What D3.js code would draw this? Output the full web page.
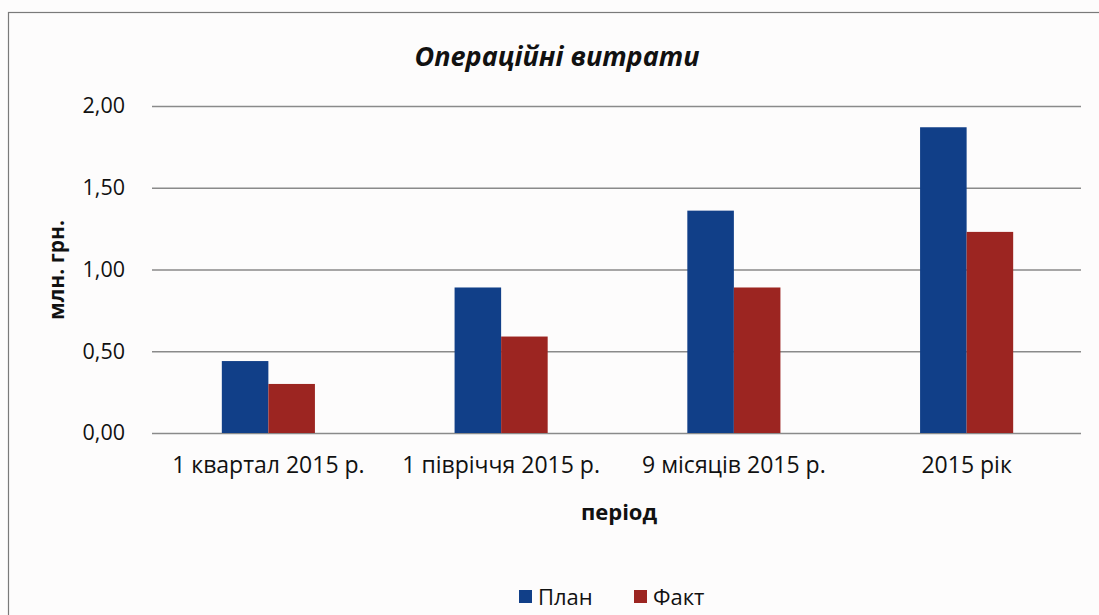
<!DOCTYPE html>
<html lang="uk">
<head>
    <meta charset="UTF-8">
    <title>Операційні витрати</title>
    <script src="https://d3js.org/d3.v7.min.js"></script>
    <style>
        body{
            margin: 0;
            background: #fdfcfc;
        }
        svg text{
            font-family: "Open Sans", "Noto Sans", sans-serif;
            fill: #111;
        }
    </style>
</head>
<body>
<svg id="chart" width="1099" height="615"></svg>

<script>
    // data
    let periods = ["1 квартал 2015 р.", "1 півріччя 2015 р.", "9 місяців 2015 р.", "2015 рік"]
    let plan = [0.44, 0.89, 1.36, 1.87]
    let fakt = [0.30, 0.59, 0.89, 1.23]
    let series_names = ["План", "Факт"]
    let y_ticks = [0, 0.5, 1, 1.5, 2]

    let colors = {"План": "#113f88", "Факт": "#9c2521"}

    let svg = d3.select("#chart")

    // frame (left and top edges only visible)
    svg.append("rect")
        .attr("x", 8.5)
        .attr("y", 12.5)
        .attr("width", 1110)
        .attr("height", 620)
        .attr("fill", "none")
        .attr("stroke", "#7a7a7a")
        .attr("stroke-width", 1.2)

    let margin = {left: 152, right: 1083, top: 106, bottom: 433}

    let x0 = d3.scaleBand()
        .domain(periods)
        .range([margin.left, margin.right])
        .paddingInner(0.6)
        .paddingOuter(0.3)

    let x1 = d3.scaleBand()
        .domain(series_names)
        .range([0, x0.bandwidth()])

    let y = d3.scaleLinear()
        .domain([0, 2])
        .range([margin.bottom, margin.top])

    // grid lines
    svg.append("g")
        .attr("transform", "translate(" + margin.left + ",0)")
        .call(d3.axisLeft(y)
            .tickValues(y_ticks)
            .tickSize(-(margin.right - margin.left - 2))
            .tickFormat(d => d3.format(".2f")(d).replace(".", ","))
            .tickPadding(27))
        .call(g => g.select(".domain").remove())
        .call(g => g.selectAll(".tick line")
            .attr("stroke", "#8a8a8a")
            .attr("stroke-width", 1.4))
        .call(g => g.selectAll(".tick text")
            .attr("font-size", 21.5)
            .style("font-family", "'Open Sans', sans-serif")
            .attr("fill", "#111"))

    // bars
    let rows = periods.map((p, i) => ({period: p, values: [
        {name: "План", value: plan[i]},
        {name: "Факт", value: fakt[i]}
    ]}))

    svg.append("g")
        .selectAll("g")
        .data(rows)
        .join("g")
        .attr("transform", d => "translate(" + x0(d.period) + ",0)")
        .selectAll("rect")
        .data(d => d.values)
        .join("rect")
        .attr("x", d => x1(d.name))
        .attr("y", d => y(d.value))
        .attr("width", x1.bandwidth())
        .attr("height", d => y(0) - y(d.value))
        .attr("fill", d => colors[d.name])

    // category axis labels
    svg.append("g")
        .attr("transform", "translate(0," + margin.bottom + ")")
        .call(d3.axisBottom(x0).tickSize(0).tickPadding(24))
        .call(g => g.select(".domain").remove())
        .call(g => g.selectAll(".tick text")
            .attr("font-size", 23)
            .style("font-family", "'Open Sans', sans-serif")
            .attr("fill", "#111"))

    // title
    svg.append("text")
        .attr("x", 557)
        .attr("y", 66)
        .attr("text-anchor", "middle")
        .attr("font-size", 27)
        .attr("font-weight", "bold")
        .attr("font-style", "italic")
        .text("Операційні витрати")

    // axis titles
    svg.append("text")
        .attr("x", 619)
        .attr("y", 520)
        .attr("text-anchor", "middle")
        .attr("font-size", 22)
        .attr("font-weight", "bold")
        .text("період")

    svg.append("text")
        .attr("transform", "translate(64,270) rotate(-90)")
        .attr("text-anchor", "middle")
        .attr("font-size", 21)
        .attr("font-weight", "bold")
        .text("млн. грн.")

    // legend
    let legend = svg.append("g")
        .selectAll("g")
        .data(series_names)
        .join("g")
        .attr("transform", (d, i) => "translate(" + (519 + i * 115) + ",590)")

    legend.append("rect")
        .attr("width", 13)
        .attr("height", 13)
        .attr("fill", d => colors[d])

    legend.append("text")
        .attr("x", 19)
        .attr("y", 15)
        .attr("font-size", 22)
        .text(d => d)
</script>
</body>
</html>
